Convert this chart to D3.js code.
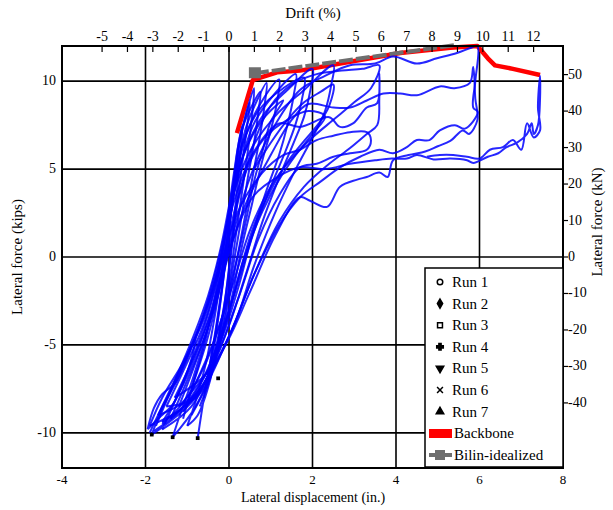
<!DOCTYPE html>
<html>
<head>
<meta charset="utf-8">
<script src="https://cdn.jsdelivr.net/npm/d3@7"></script>
<style>
  body { margin: 0; background: #fff; }
</style>
</head>
<body>
<div id="chart"></div>
<script>
var svgWidth = 613;
var svgHeight = 510;

// axis ticks
var dispTicks = [-4, -2, 0, 2, 4, 6, 8];
var forceTicks = [-10, -5, 0, 5, 10];
var driftTicks = [-5, -4, -3, -2, -1, 0, 1, 2, 3, 4, 5, 6, 7, 8, 9, 10, 11, 12];
var kNTicks = [-40, -30, -20, -10, 0, 10, 20, 30, 40, 50];
var inPerDrift = 0.608; // inches of displacement per 1% drift

// backbone and bilinear idealization (in., kips)
var backbone = [[0.19, 7.05], [0.57, 10.06], [1.15, 10.5], [1.7, 10.6], [2.9, 11.1], [4.1, 11.6],
  [4.9, 11.8], [5.3, 11.9], [5.95, 12.0], [6.2, 11.3], [6.37, 10.9], [6.8, 10.7], [7.45, 10.35]];
var bilinear = [[0, 0], [0.62, 10.45], [5.4, 12.05]];

// hysteresis loops (in., kips)
var loop1 = [[-0.75, -10.3], [-0.6, -8], [-0.45, -6], [-0.3, -4], [-0.15, -1.5], [0, 1.5], [0.12, 4], [0.25, 6.5],
  [0.45, 8.5], [0.6, 9.6], [0.55, 8], [0.45, 6], [0.3, 3.5], [0.15, 1], [0, -1.5], [-0.2, -4], [-0.45, -7], [-0.75, -9], [-1.0, -9.6]];
var loop2 = [[-1.0, -9.6], [-0.8, -8.2], [-0.55, -6], [-0.35, -3.5], [-0.15, -0.5], [0.05, 2.5], [0.2, 5], [0.4, 7.3],
  [0.65, 8.8], [0.9, 9.9], [0.85, 8.6], [0.75, 7], [0.6, 5], [0.4, 2.5], [0.2, 0], [-0.05, -3], [-0.35, -6], [-0.8, -8.5], [-1.35, -10.25]];
var loop3 = [[-1.35, -10.25], [-1.15, -8.8], [-0.85, -6.8], [-0.5, -4], [-0.2, -1], [0.02, 2], [0.2, 5], [0.5, 7.5],
  [0.85, 9.1], [1.2, 10.1], [1.15, 8.8], [1.0, 7.2], [0.8, 5.5], [0.55, 3], [0.3, 0.5], [0.05, -2.5], [-0.3, -5.5], [-0.9, -8.5], [-1.6, -9.8]];
var loop4 = [[-1.6, -9.8], [-1.35, -8.5], [-1.0, -6.5], [-0.6, -4], [-0.25, -1], [0, 2], [0.25, 5], [0.6, 7.6],
  [1.1, 9.3], [1.6, 10.4], [1.55, 9.2], [1.4, 7.5], [1.2, 5.8], [0.9, 3.8], [0.55, 1.2], [0.25, -1.5], [-0.15, -4.5], [-0.8, -8], [-1.85, -10.1]];
var loop5 = [[-1.85, -10.1], [-1.6, -8.6], [-1.2, -6.8], [-0.75, -4.3], [-0.3, -1.2], [0, 2.5], [0.3, 5.5], [0.8, 8],
  [1.4, 9.5], [2.0, 10.7], [1.95, 9.5], [1.8, 8], [1.55, 6.5], [1.2, 4.5], [0.8, 2], [0.4, -1], [-0.1, -4.5], [-0.9, -8.2], [-1.9, -9.6]];
var loop6 = [[-1.9, -9.6], [-1.6, -8], [-1.1, -6], [-0.6, -3.5], [-0.2, 0], [0.1, 3.5], [0.5, 6], [1.1, 8],
  [1.8, 9.5], [2.5, 10.9], [2.45, 9.8], [2.3, 8.3], [2.0, 6.8], [1.6, 5], [1.1, 2.5], [0.6, -0.5], [0.1, -4], [-0.8, -7.8], [-1.7, -9.0]];
var loop7 = [[-1.7, -9.0], [-1.3, -7], [-0.8, -4.5], [-0.3, -1], [0.1, 3], [0.6, 6], [1.2, 7.6], [1.7, 7.4],
  [2.4, 7.95], [2.66, 7.4], [2.97, 7.6], [3.3, 8.5], [3.55, 8.75], [3.6, 10.45], [3.6, 9], [3.55, 7.5], [3.3, 7.0],
  [2.9, 6.2], [2.4, 5.3], [1.8, 4], [1.2, 2], [0.6, -1], [0, -4.5], [-0.8, -8], [-1.5, -8.5]];
var loop8 = [[-1.5, -8.5], [-1.1, -6.5], [-0.6, -3.8], [-0.2, -0.5], [0.2, 2.5], [0.8, 4.8], [1.3, 5.8], [1.7, 6.1],
  [2.1, 6.65], [2.5, 6.9], [2.9, 7.1], [3.3, 7.1], [3.4, 6.65], [3.3, 6.1], [2.9, 5.9], [2.5, 5.7], [2.1, 5.3],
  [1.7, 5.1], [1.2, 3.5], [0.7, 1], [0.2, -2.5], [-0.5, -6.5], [-1.3, -8.0]];
var loop9 = [[-1.3, -8.0], [-0.9, -6], [-0.4, -3], [0, 0.5], [0.5, 4.5], [1.1, 7.5], [1.7, 9.5], [2.3, 10.3],
  [2.9, 10.9], [3.5, 11.0], [3.93, 11.4], [4.5, 11.0], [4.98, 11.3], [5.46, 11.6], [5.8, 11.9], [5.95, 12.0],
  [5.9, 10], [5.85, 8.5], [5.96, 8.24], [5.65, 7.3], [5.41, 7.5], [5.05, 7.2], [4.8, 6.65], [4.5, 6.65], [4.26, 6.25],
  [3.93, 5.9], [3.6, 6.1], [3.14, 5.7], [2.66, 5.1], [2.2, 4.3], [1.7, 3.4], [1.2, 1.8], [0.6, -1], [0, -4.5],
  [-0.7, -7.5], [-1.4, -9.2]];
var loop10 = [[-1.4, -9.2], [-1.0, -7], [-0.5, -4], [-0.1, -0.5], [0.4, 3], [1.0, 5.8], [1.5, 7.8], [1.9, 8.7],
  [2.5, 8.5], [2.9, 8.5], [3.3, 8.9], [3.7, 9.3], [4.1, 9.3], [4.5, 9.2], [5.05, 9.7], [5.4, 9.6], [5.77, 9.9],
  [5.85, 10.8], [5.9, 9], [5.95, 7.8], [5.75, 7.0], [5.6, 7.2], [5.3, 6.6], [5.0, 6.3], [4.7, 6.0], [4.3, 5.8],
  [3.93, 5.5], [3.8, 4.55], [3.6, 4.8], [3.3, 4.55], [3.07, 4.4], [2.66, 4.0], [2.35, 2.85], [1.94, 3.2], [1.7, 3.4],
  [1.1, 1.2], [0.5, -2], [-0.2, -5.5], [-1.2, -8.5]];
var loop11 = [[-1.2, -8.5], [-0.8, -6], [-0.3, -2.5], [0.1, 1], [0.6, 3.5], [1.2, 4.6], [1.7, 5.1], [2.3, 5.0],
  [2.9, 5.3], [3.5, 5.5], [3.9, 5.6], [4.26, 5.6], [4.5, 5.8], [4.9, 5.55], [5.3, 5.6], [5.7, 5.5], [5.85, 5.35],
  [6.2, 5.7], [6.45, 5.9], [6.65, 6.25], [6.9, 6.5], [7.14, 7.0], [7.25, 7.6], [7.3, 7.0], [7.4, 7.5], [7.45, 9],
  [7.45, 10.3], [7.4, 8.5], [7.45, 7.2], [7.3, 6.8], [7.14, 7.6], [7.0, 6.1], [6.8, 6.65], [6.56, 6.25],
  [6.25, 6.1], [6.0, 5.6], [5.7, 5.7], [5.37, 5.8], [5.05, 5.8], [4.74, 5.7]];
var loop12 = [[-0.9, -7.5], [-0.5, -4.5], [-0.15, -1], [0.2, 3], [0.6, 6.5], [1.0, 8.6], [1.5, 9.8], [2.1, 10.4],
  [2.7, 10.6], [3.2, 10.7], [3.6, 10.9], [3.4, 9.6], [3.0, 8.8], [2.5, 7.8], [2.0, 6.8], [1.5, 5.6], [1.0, 4.0],
  [0.5, 1.5], [0.1, -1.5], [-0.4, -5], [-1.0, -8.2]];
var loop13 = [[-0.5, -7], [-0.35, -5], [-0.2, -2.5], [-0.05, 0.5], [0.08, 3.5], [0.2, 6], [0.32, 7.5], [0.28, 6],
  [0.18, 3.5], [0.05, 0.5], [-0.1, -2.5], [-0.3, -5], [-0.55, -7.5]];
var loop14 = [[-0.6, -8], [-0.45, -6], [-0.28, -3.5], [-0.12, -0.8], [0.02, 2], [0.15, 4.8], [0.3, 7], [0.5, 8.8],
  [0.42, 7.2], [0.3, 5], [0.15, 2.2], [0, -0.8], [-0.18, -3.8], [-0.4, -6.5], [-0.7, -8.5]];
var loop15 = [[-1.1, -9.2], [-0.9, -7.5], [-0.65, -5.5], [-0.4, -3], [-0.2, -0.5], [-0.03, 2.2], [0.12, 4.8], [0.3, 7.2],
  [0.55, 8.6], [0.75, 9.4], [0.7, 8.2], [0.6, 6.5], [0.45, 4.5], [0.28, 2], [0.1, -0.5], [-0.12, -3.5], [-0.45, -6.8], [-0.9, -9.0]];
var loop16 = [[-1.75, -9.6], [-1.5, -8.2], [-1.2, -6.5], [-0.85, -4.5], [-0.5, -2.2], [-0.2, 0.5], [0.05, 3.5], [0.3, 6.3],
  [0.7, 8.3], [1.3, 9.6], [1.8, 10.2], [1.75, 9], [1.6, 7.6], [1.35, 6], [1.0, 4], [0.65, 1.8], [0.3, -0.8],
  [-0.1, -3.8], [-0.6, -6.8], [-1.2, -8.8], [-1.8, -9.9]];
var loop17 = [[-1.9, -10.0], [-1.7, -9], [-1.4, -7.6], [-1.0, -5.6], [-0.6, -3.2], [-0.25, -0.2], [0.05, 3], [0.35, 5.8],
  [0.8, 7.8], [1.3, 8.9], [1.0, 7.7], [0.8, 6], [0.6, 4.3], [0.4, 2], [0.15, -0.5], [-0.15, -3.3], [-0.55, -6],
  [-1.1, -8.3], [-1.6, -9.5]];
var loop18 = [[0.6, 5], [1.0, 6.5], [1.4, 7.8], [1.8, 8.8], [2.2, 9.4], [2.5, 9.8], [2.4, 8.6], [2.15, 7.6], [1.8, 6.6],
  [1.4, 5.4], [1.0, 3.8], [0.6, 1.8], [0.3, -0.5], [-0.1, -4], [-0.7, -7.6], [-1.6, -9.4]];
var loop19 = [[-1.6, -9.4], [-1.3, -8.2], [-0.9, -6.2], [-0.5, -3.6], [-0.15, -0.6], [0.15, 2.8], [0.5, 5.4], [0.9, 6.9],
  [1.4, 7.8], [1.9, 8.3], [2.3, 8.0], [2.0, 7.0], [1.6, 5.8], [1.2, 4.4], [0.8, 2.6], [0.4, 0.2], [0, -3],
  [-0.5, -6.4], [-1.1, -8.8]];
var loop20 = [[-1.95, -9.8], [-1.8, -8.6], [-1.6, -7.8], [-1.3, -7.2], [-1.05, -6.0], [-0.8, -4.6], [-0.9, -5.8],
  [-1.1, -7.2], [-1.35, -8.4], [-1.7, -9.2], [-1.95, -9.8]];
var loops = [loop1, loop2, loop3, loop4, loop5, loop6, loop7, loop8, loop9, loop10,
  loop11, loop12, loop13, loop14, loop15, loop16, loop17, loop18, loop19, loop20];

// run peak markers
var runNames = ["Run 1", "Run 2", "Run 3", "Run 4", "Run 5", "Run 6", "Run 7"];
var runPeaks = [[-0.75, -10.3], [-1.35, -10.25], [-1.85, -10.1], [-0.26, -6.9]];

var x = d3.scaleLinear().domain([-4, 8]).range([62, 563]);
var y = d3.scaleLinear().domain([-12, 12]).range([468, 46]);
var drift = d3.scaleLinear().domain([-4 / inPerDrift, 8 / inPerDrift]).range([62, 563]);
var kN = d3.scaleLinear().domain([-12 * 4.82, 12 * 4.82]).range([468, 46]);

var svg = d3.select("#chart").append("svg")
    .attr("width", svgWidth)
    .attr("height", svgHeight)
    .attr("font-family", "'Liberation Serif', 'Times New Roman', serif")
    .style("font-family", "'Liberation Serif', 'Times New Roman', serif");

svg.append("rect").attr("width", svgWidth).attr("height", svgHeight).attr("fill", "#fff");

// grid
svg.append("g").selectAll("line")
    .data(dispTicks.slice(1, -1))
    .enter().append("line")
    .attr("x1", d => x(d)).attr("x2", d => x(d))
    .attr("y1", y(12)).attr("y2", y(-12))
    .attr("stroke", "#000").attr("stroke-width", 1.6);
svg.append("g").selectAll("line")
    .data(forceTicks)
    .enter().append("line")
    .attr("x1", x(-4)).attr("x2", x(8))
    .attr("y1", d => y(d)).attr("y2", d => y(d))
    .attr("stroke", "#000").attr("stroke-width", 1.6);

var line = d3.line().x(d => x(d[0])).y(d => y(d[1]));

// backbone
svg.append("path").datum(backbone)
    .attr("d", line).attr("fill", "none")
    .attr("stroke", "#ff0000").attr("stroke-width", 4.5).attr("stroke-linejoin", "round");

// bilinear
svg.append("path").datum(bilinear.slice(1))
    .attr("d", line).attr("fill", "none")
    .attr("stroke", "#6e6e6e").attr("stroke-width", 4).attr("stroke-dasharray", "14,3");
svg.append("rect")
    .attr("x", x(bilinear[1][0]) - 6).attr("y", y(bilinear[1][1]) - 6)
    .attr("width", 12).attr("height", 11).attr("fill", "#6e6e6e");

// hysteresis
svg.append("g").selectAll("path")
    .data(loops)
    .enter().append("path")
    .attr("d", d3.line().x(d => x(d[0])).y(d => y(d[1])).curve(d3.curveCatmullRom))
    .attr("fill", "none")
    .attr("stroke", "#0000ff").attr("stroke-width", 2).attr("stroke-opacity", 0.85);

// run markers
svg.append("g").selectAll("path")
    .data(runPeaks)
    .enter().append("path")
    .attr("transform", d => "translate(" + x(d[0]) + "," + y(d[1]) + ")")
    .attr("d", d3.symbol().type(d3.symbolSquare).size(14))
    .attr("fill", "#000");

// frame
svg.append("rect")
    .attr("x", x(-4)).attr("y", y(12))
    .attr("width", x(8) - x(-4)).attr("height", y(-12) - y(12))
    .attr("fill", "none").attr("stroke", "#000").attr("stroke-width", 2);

// bottom axis labels
svg.append("g").selectAll("text")
    .data(dispTicks)
    .enter().append("text")
    .attr("x", d => x(d)).attr("y", 484)
    .attr("text-anchor", "middle").style("font-size", "13px")
    .text(d => d);

// left axis labels
svg.append("g").selectAll("text")
    .data(forceTicks)
    .enter().append("text")
    .attr("x", 56).attr("y", d => y(d) + 4)
    .attr("text-anchor", "end").style("font-size", "14px")
    .text(d => d);

// top drift axis
svg.append("g").selectAll("line")
    .data(driftTicks)
    .enter().append("line")
    .attr("x1", d => drift(d)).attr("x2", d => drift(d))
    .attr("y1", y(12)).attr("y2", y(12) + 6)
    .attr("stroke", "#000").attr("stroke-width", 1.2);
svg.append("g").selectAll("text")
    .data(driftTicks)
    .enter().append("text")
    .attr("x", d => drift(d)).attr("y", 41)
    .attr("text-anchor", "middle").style("font-size", "14px")
    .text(d => d);

// right kN axis
svg.append("g").selectAll("line")
    .data(kNTicks)
    .enter().append("line")
    .attr("x1", x(8)).attr("x2", x(8) + 5)
    .attr("y1", d => kN(d)).attr("y2", d => kN(d))
    .attr("stroke", "#000").attr("stroke-width", 1.2);
svg.append("g").selectAll("text")
    .data(kNTicks)
    .enter().append("text")
    .attr("x", x(8) + 5).attr("y", d => kN(d) + 4)
    .style("font-size", "14px")
    .text(d => d);

// axis titles
svg.append("text")
    .attr("x", 313).attr("y", 18)
    .attr("text-anchor", "middle").style("font-size", "15px")
    .text("Drift (%)");
svg.append("text")
    .attr("x", 313).attr("y", 502)
    .attr("text-anchor", "middle").style("font-size", "14px")
    .text("Lateral displacement (in.)");
svg.append("text")
    .attr("transform", "translate(22, 257)rotate(-90)")
    .attr("text-anchor", "middle").style("font-size", "15px")
    .text("Lateral force (kips)");
svg.append("text")
    .attr("transform", "translate(602, 222)rotate(-90)")
    .attr("text-anchor", "middle").style("font-size", "15px")
    .text("Lateral force (kN)");

// legend
var legend = svg.append("g").attr("transform", "translate(425, 268)");
legend.append("rect")
    .attr("width", 138).attr("height", 199)
    .attr("fill", "#fff").attr("stroke", "#000").attr("stroke-width", 1.5);

var runSymbols = [d3.symbolCircle, d3.symbolDiamond, d3.symbolSquare, d3.symbolCross,
  d3.symbolTriangle, d3.symbolTimes, d3.symbolTriangle];
var runFill = [false, true, false, true, true, true, true];
var rows = legend.selectAll("g.run")
    .data(runNames)
    .enter().append("g")
    .attr("class", "run")
    .attr("transform", (d, i) => "translate(0," + (14 + i * 21.6) + ")");
rows.append("path")
    .attr("transform", (d, i) => "translate(15,0)" + (i == 4 ? "rotate(180)" : ""))
    .attr("d", (d, i) => d3.symbol().type(runSymbols[i]).size(24)())
    .attr("fill", (d, i) => runFill[i] ? "#000" : "#fff")
    .attr("stroke", "#000").attr("stroke-width", 1.5);
rows.append("text")
    .attr("x", 27).attr("y", 5)
    .style("font-size", "15px")
    .text(d => d);

legend.append("rect")
    .attr("x", 4).attr("y", 161).attr("width", 23).attr("height", 9)
    .attr("fill", "#ff0000");
legend.append("text")
    .attr("x", 29).attr("y", 170).style("font-size", "15px")
    .text("Backbone");
legend.append("line")
    .attr("x1", 4).attr("x2", 27).attr("y1", 187).attr("y2", 187)
    .attr("stroke", "#6e6e6e").attr("stroke-width", 4);
legend.append("rect")
    .attr("x", 10).attr("y", 182).attr("width", 10).attr("height", 10)
    .attr("fill", "#6e6e6e");
legend.append("text")
    .attr("x", 29).attr("y", 192).style("font-size", "15px")
    .text("Bilin-idealized");
</script>
</body>
</html>
